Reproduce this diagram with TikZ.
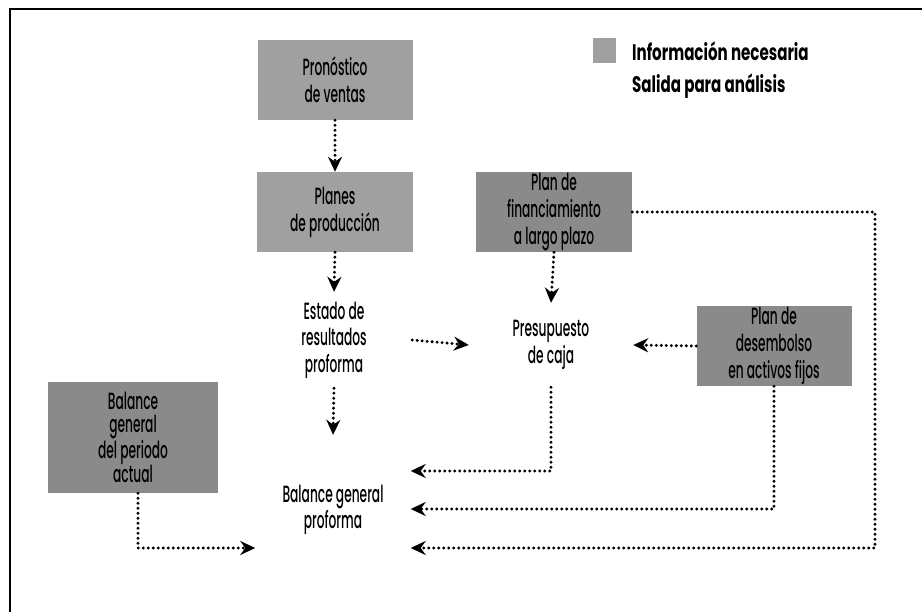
\documentclass[tikz,border=0pt]{standalone}
\usepackage{fontspec}
\setmainfont{Poppins Medium}[FakeStretch=0.52]
\newfontfamily\legfont{Poppins}[FakeStretch=0.67]
\usetikzlibrary{arrows.meta}
\definecolor{boxgray}{RGB}{160,160,160}
\definecolor{boxdark}{RGB}{138,138,138}
\begin{document}
\begin{tikzpicture}[x=1pt,y=-1pt,
  box/.style={fill=boxgray, draw=none, inner sep=0pt, align=center,
    font=\fontsize{23.5}{27}\selectfont, minimum width=155pt, minimum height=80pt},
  dark/.style={fill=boxdark},
  plain/.style={inner sep=0pt, align=center, font=\fontsize{23.5}{26.5}\selectfont},
  flow/.style={line width=3.3pt, dash pattern=on 0pt off 5pt, line cap=round,
    -{Stealth[length=15pt,width=14pt,inset=5pt]}},
  legend/.style={anchor=west, inner sep=0pt, font=\legfont\bfseries\fontsize{22.5}{22}\selectfont}
]
\useasboundingbox (0,0) rectangle (922,612);
% frame
\draw[line width=1.6pt] (10,612) coordinate (fbl) -- (10,9) coordinate (ftl) -- (922,9) coordinate (ftr);

% legend
\node[fill=boxgray, minimum width=23pt, minimum height=25pt, inner sep=0pt] (sw) at (604.5,50.5) {};
\node[legend] (l1) at (632,51) {Información necesaria};
\node[legend] (l2) at (632,86) {Salida para análisis};

% boxes
\node[box] (pron) at (335,80) {Pronóstico\\de ventas};
\node[box, minimum width=156pt] (plan) at (335,212) {Planes\\de producción};
\node[box, dark, minimum width=156pt] (fin) at (554,212) {Plan de\\financiamiento\\a largo plazo};
\node[box, dark] (des) at (774,346) {Plan de\\desembolso\\en activos fijos};
\node[box, dark, minimum width=170pt, minimum height=111pt, font=\fontsize{23.5}{23.5}\selectfont] (act) at (133,437.5) {Balance\\general\\del periodo\\actual};

% plain text nodes
\node[plain, minimum width=156pt, minimum height=96pt] (est) at (334,340) {Estado de\\resultados\\proforma};
\node[plain, minimum width=164pt, minimum height=84pt] (pres) at (551,345) {Presupuesto\\de caja};
\node[plain, minimum width=155pt, minimum height=150pt] (bal) at (333,510) {Balance general\\proforma};

\coordinate (rc) at (875,548);

% connectors
\draw[flow] (pron.south) -- (plan.north);
\draw[flow] (plan.south) -- (est.north);
\draw[flow] (est.south) -- (bal.north);
\draw[flow] (est.east) -- (pres.west);
\draw[flow] (fin.south) -- (pres.north);
\draw[flow] (des.west) -- (pres.east);
\draw[flow] (pres.south) |- ([yshift=39pt]bal.east);
\draw[flow] (des.south) |- ([yshift=1pt]bal.east);
\draw[flow] (fin.east) -| (rc) -- ([yshift=-38pt]bal.east);
\draw[flow] ([xshift=5pt]act.south) |- ([yshift=-38pt]bal.west);
\end{tikzpicture}
\end{document}
